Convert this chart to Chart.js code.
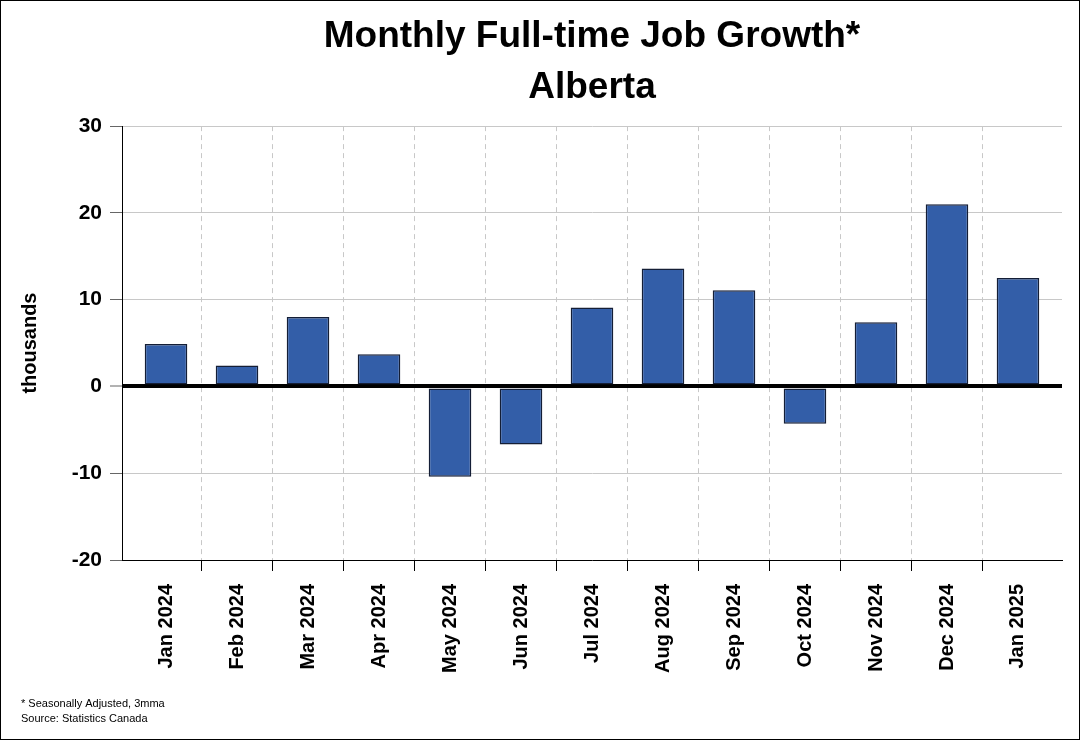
<!DOCTYPE html>
<html>
<head>
<meta charset="utf-8">
<title>Monthly Full-time Job Growth - Alberta</title>
<script src="https://cdn.jsdelivr.net/npm/chart.js@4/dist/chart.umd.min.js"></script>
<style>
    body { margin: 0; background: #fff; }
    #wrap { width: 1080px; height: 740px; border: 1px solid #000; box-sizing: border-box; }
    canvas { display: block; }
</style>
</head>
<body>
<div id="wrap"><canvas id="jobChart" width="1078" height="738"></canvas></div>
<script>
// Chart data
const months = ['Jan 2024', 'Feb 2024', 'Mar 2024', 'Apr 2024', 'May 2024', 'Jun 2024',
                'Jul 2024', 'Aug 2024', 'Sep 2024', 'Oct 2024', 'Nov 2024', 'Dec 2024', 'Jan 2025'];
const jobGrowth = [4.9, 2.4, 8.0, 3.7, -10.4, -6.7, 9.1, 13.6, 11.1, -4.3, 7.4, 21.0, 12.5];
const yTicks = [-20, -10, 0, 10, 20, 30];
const titleLines = ['Monthly Full-time Job Growth*', 'Alberta'];
const footnotes = ['* Seasonally Adjusted, 3mma', 'Source: Statistics Canada'];

const FONT = '"Liberation Sans", Arial, sans-serif';

// Footnotes in the bottom left corner
const footnotePlugin = {
    id: 'footnotes',
    afterDraw(chart) {
        const ctx = chart.ctx;
        ctx.save();
        ctx.font = '11px ' + FONT;
        ctx.fillStyle = '#000';
        ctx.textAlign = 'left';
        ctx.textBaseline = 'alphabetic';
        footnotes.forEach((line, i) => ctx.fillText(line, 20, 706 + i * 15));
        ctx.restore();
    }
};

// hide the grid line / tick at both outer edges of the category axis
const innerOnly = (color) => (c) => (c.index === undefined || c.index === 0) ? 'transparent' : color;

const ctx = document.getElementById('jobChart').getContext('2d');
const jobChart = new Chart(ctx, {
    type: 'bar',
    data: {
        labels: months,
        datasets: [{
            label: 'Full-time job growth',
            data: jobGrowth,
            backgroundColor: '#335EA8',
            borderColor: '#141E36',
            borderWidth: 1.5,
            borderSkipped: false,
            barPercentage: 0.6,
            categoryPercentage: 1.0
        }]
    },
    options: {
        responsive: false,
        animation: false,
        layout: { padding: { left: 0, right: 17, top: 0, bottom: 0 } },
        plugins: {
            legend: { display: false },
            tooltip: { enabled: false },
            title: {
                display: true,
                text: titleLines,
                fullSize: false, // centre over the plot area
                color: '#000',
                font: { family: FONT, size: 37, weight: 'bold', lineHeight: 1.38 },
                padding: { top: 10, bottom: 13 }
            }
        },
        scales: {
            x: {
                grid: {
                    offset: true,
                    color: innerOnly('#C8C8C8'),
                    tickColor: innerOnly('#000'),
                    lineWidth: 1,
                    tickLength: 11
                },
                border: { color: '#000', width: 1, dash: [5, 4] },
                ticks: {
                    color: '#000',
                    font: { family: FONT, size: 20, weight: 'bold' },
                    maxRotation: 90,
                    minRotation: 90,
                    padding: 13,
                    autoSkip: false
                },
                afterBuildTicks(scale) {
                    // leave a small gap between the first/last category and the plot edges
                    scale._startValue -= 0.12;
                    scale._valueRange += 0.24;
                },
                afterFit(scale) { scale.height = 179; }
            },
            y: {
                min: -20,
                max: 30,
                afterBuildTicks(scale) { scale.ticks = yTicks.map(v => ({ value: v })); },
                grid: {
                    color: (c) => c.tick && c.tick.value === 0 ? '#000' : '#C8C8C8',
                    lineWidth: (c) => c.tick && c.tick.value === 0 ? 4 : 1,
                    tickColor: '#666',
                    tickWidth: 1,
                    tickLength: 12
                },
                border: { color: '#000', width: 1 },
                ticks: {
                    color: '#000',
                    font: { family: FONT, size: 21, weight: 'bold' },
                    padding: 8
                },
                title: {
                    display: true,
                    text: 'thousands',
                    color: '#000',
                    font: { family: FONT, size: 20, weight: 'bold' },
                    padding: { top: 17, bottom: 0 }
                },
                afterFit(scale) { scale.width = 121; }
            }
        }
    },
    plugins: [footnotePlugin]
});
</script>
</body>
</html>
